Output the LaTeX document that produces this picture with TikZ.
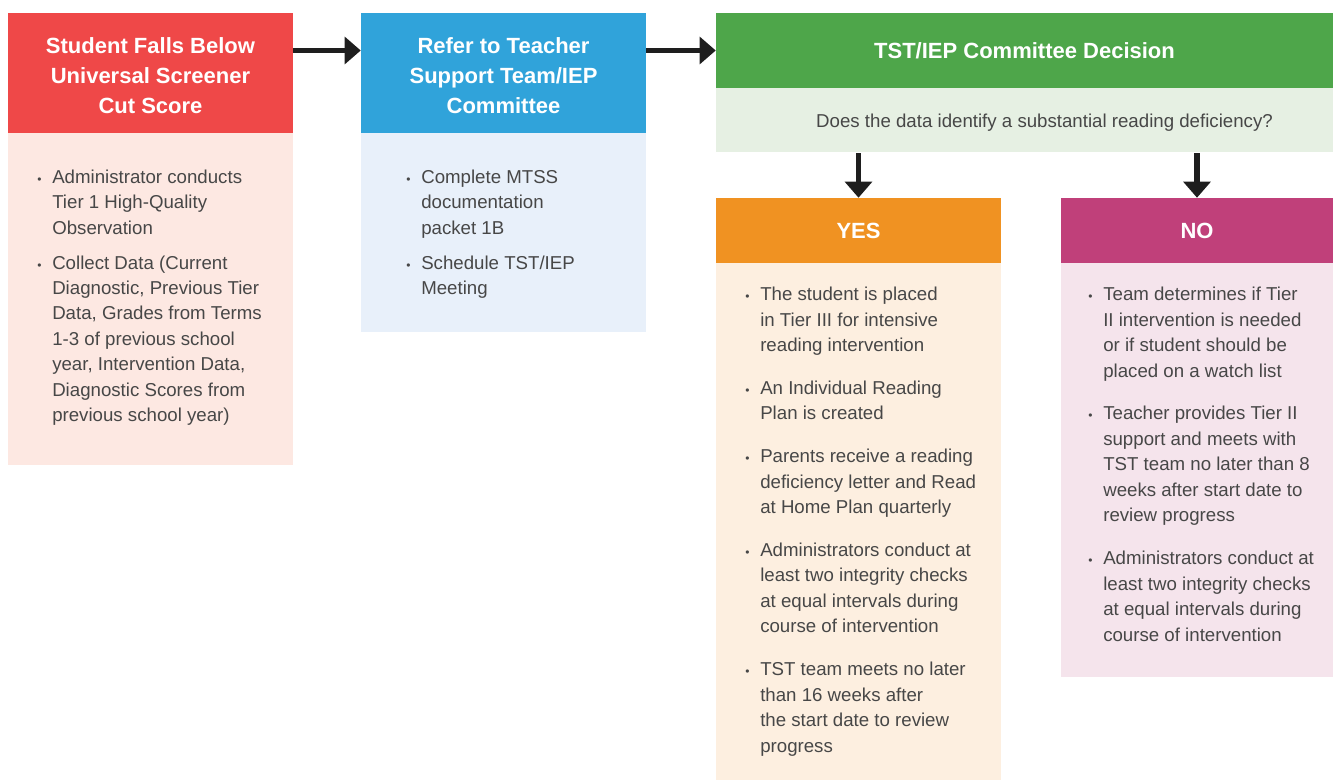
\documentclass[tikz,border=0pt]{standalone}
\usepackage{fontspec}
\setmainfont{Liberation Sans}
\usetikzlibrary{arrows.meta,positioning}

\definecolor{screenRed}{HTML}{EF4848}
\definecolor{screenRedLt}{HTML}{FDE8E2}
\definecolor{referBlue}{HTML}{30A3DA}
\definecolor{referBlueLt}{HTML}{E8F0FA}
\definecolor{decGreen}{HTML}{4EA64A}
\definecolor{decGreenLt}{HTML}{E6F0E3}
\definecolor{yesOrange}{HTML}{F09222}
\definecolor{yesOrangeLt}{HTML}{FDEFE0}
\definecolor{noPink}{HTML}{C0407A}
\definecolor{noPinkLt}{HTML}{F5E4EC}
\definecolor{bodyGray}{HTML}{474747}
\definecolor{arrowInk}{HTML}{1E1E1E}

% bullet hung to the left of an item's first line
\newcommand{\bul}{\llap{{\fontsize{9}{9}\selectfont\textbullet}\hspace{8pt}}}
% taller first line, pushes a centred block down a little
\newcommand{\lift}[1]{\rule{0pt}{#1}}

\tikzset{
  hdr/.style={rectangle, inner sep=0pt, text=white, align=center,
    font=\fontsize{16.5}{22.5}\selectfont\bfseries},
  pane/.style={rectangle, inner sep=0pt},
  items/.style={anchor=north west, inner sep=0pt, align=left, text=bodyGray,
    font=\fontsize{14}{19.1}\selectfont},
  flow/.style={arrowInk, line width=4pt, -{Triangle[length=12pt,width=20pt]}},
}

\begin{document}
\begin{tikzpicture}[x=0.75pt,y=-0.75pt]
  \useasboundingbox (0,0) rectangle (1333,780);

  % step 1
  \node[hdr, fill=screenRed, minimum width=213.75pt, minimum height=90pt] (screen) at (150.5,73)
    {\lift{16pt}Student Falls Below\\Universal Screener\\Cut Score};
  \node[pane, fill=screenRedLt, minimum width=213.75pt, minimum height=249pt] (screenbody) at (150.5,299) {};
  \node[items] (screenlist) at (52,169.5)
    {\bul Administrator conducts\\Tier 1 High-Quality\\Observation\\[7pt]
     \bul Collect Data (Current\\Diagnostic, Previous Tier\\Data, Grades from Terms\\1-3 of previous school\\year, Intervention Data,\\Diagnostic Scores from\\previous school year)};

  % step 2
  \node[hdr, fill=referBlue, minimum width=213.75pt, minimum height=90pt] (refer) at (503.5,73)
    {\lift{16pt}Refer to Teacher\\Support Team/IEP\\Committee};
  \node[pane, fill=referBlueLt, minimum width=213.75pt, minimum height=149.25pt] (referbody) at (503.5,232.5) {};
  \node[items] (referlist) at (421,169.5)
    {\bul Complete MTSS\\documentation\\packet 1B\\[7pt]
     \bul Schedule TST/IEP\\Meeting};

  % decision
  \node[hdr, fill=decGreen, minimum width=462.75pt, minimum height=56.25pt] (dec) at (1024.5,50.5)
    {TST/IEP Committee Decision};
  \node[pane, fill=decGreenLt, minimum width=462.75pt, minimum height=48pt, text=bodyGray,
    font=\fontsize{14}{19.1}\selectfont] (question) at (1024.5,120)
    {\hspace{30pt}\lift{14pt}Does the data identify a substantial reading deficiency?};

  % yes branch
  \node[hdr, fill=yesOrange, minimum width=213.75pt, minimum height=48.75pt] (yes) at (858.5,230.5) {YES};
  \node[pane, fill=yesOrangeLt, minimum width=213.75pt, minimum height=387.75pt] (yesbody) at (858.5,521.5) {};
  \node[items] (yeslist) at (760,287)
    {\bul The student is placed\\in Tier III for intensive\\reading intervention\\[13pt]
     \bul An Individual Reading\\Plan is created\\[13pt]
     \bul Parents receive a reading\\deficiency letter and Read\\at Home Plan quarterly\\[13pt]
     \bul Administrators conduct at\\least two integrity checks\\at equal intervals during\\course of intervention\\[13pt]
     \bul TST team meets no later\\than 16 weeks after\\the start date to review\\progress};

  % no branch
  \node[hdr, fill=noPink, minimum width=204pt, minimum height=48.75pt] (no) at (1197,230.5) {NO};
  \node[pane, fill=noPinkLt, minimum width=204pt, minimum height=310.5pt] (nobody) at (1197,470) {};
  \node[items] (nolist) at (1103,287)
    {\bul Team determines if Tier\\II intervention is needed\\or if student should be\\placed on a watch list\\[13pt]
     \bul Teacher provides Tier II\\support and meets with\\TST team no later than 8\\weeks after start date to\\review progress\\[13pt]
     \bul Administrators conduct at\\least two integrity checks\\at equal intervals during\\course of intervention};

  % arrows
  \draw[flow] (screen.east |- dec.west) -- (refer.west |- dec.west);
  \draw[flow] (refer.east |- dec.west) -- (dec.west);
  \draw[flow] ([yshift=-0.75pt]question.south -| yes.north) -- (yes.north);
  \draw[flow] ([yshift=-0.75pt]question.south -| no.north) -- (no.north);
\end{tikzpicture}
\end{document}
